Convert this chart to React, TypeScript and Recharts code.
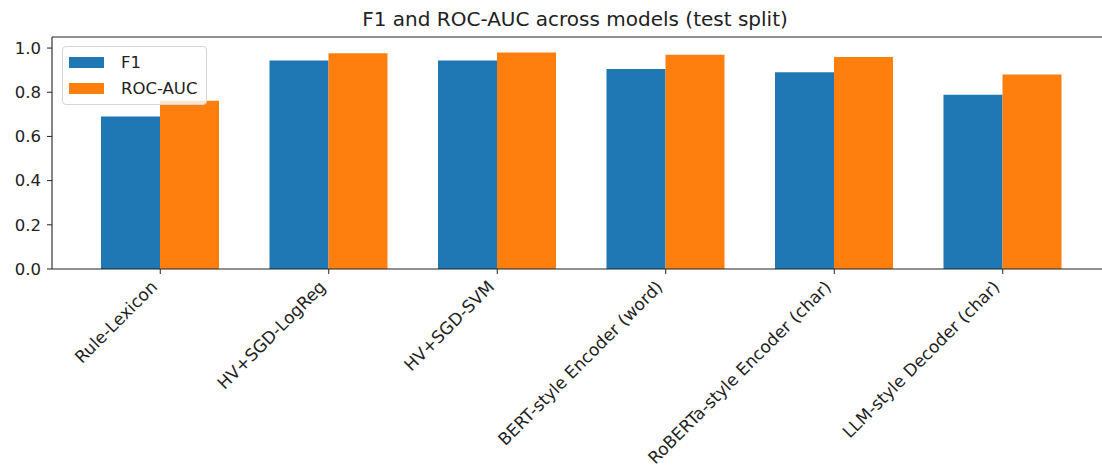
import React from "react";
import { BarChart, Bar, XAxis, YAxis, ReferenceLine } from "recharts";

const models = [
  "Rule-Lexicon",
  "HV+SGD-LogReg",
  "HV+SGD-SVM",
  "BERT-style Encoder (word)",
  "RoBERTa-style Encoder (char)",
  "LLM-style Decoder (char)",
];
const f1Values = [0.69, 0.944, 0.944, 0.905, 0.891, 0.789];
const rocAucValues = [0.762, 0.977, 0.98, 0.97, 0.959, 0.88];
const seriesNames = ["F1", "ROC-AUC"];
const seriesColors = ["#1f77b4", "#ff7f0e"];
const yTicks = [0, 0.2, 0.4, 0.6, 0.8, 1.0];
const title = "F1 and ROC-AUC across models (test split)";

const data = models.map((m, i) => ({ model: m, F1: f1Values[i], "ROC-AUC": rocAucValues[i] }));

const FONT = "DejaVu Sans, sans-serif";

const XTick = (props: any) => {
  const { x, y, payload } = props;
  const ax = x - 2;
  const ay = y + 12;
  return (
    <text
      x={ax}
      y={ay}
      transform={`rotate(-45, ${ax}, ${ay})`}
      textAnchor="end"
      fontFamily={FONT}
      fontSize={17}
      fill="#222"
    >
      {payload.value}
    </text>
  );
};

const LegendBox = () => (
  <div
    style={{
      position: "absolute",
      left: 62,
      top: 46,
      width: 145,
      height: 59,
      border: "1px solid #d6d6d6",
      borderRadius: 4,
      background: "rgba(255,255,255,0.8)",
      padding: "2px 0 0 6px",
      fontFamily: FONT,
      fontSize: 16.5,
      color: "#222",
      boxSizing: "border-box",
      whiteSpace: "nowrap",
    }}
  >
    {seriesNames.map((n, i) => (
      <div key={n} style={{ display: "flex", alignItems: "center", height: 26 }}>
        <span style={{ display: "inline-block", width: 35, height: 11, background: seriesColors[i], marginRight: 17 }} />
        <span>{n}</span>
      </div>
    ))}
  </div>
);

export default function App() {
  return (
    <div style={{ position: "absolute", left: 0, top: 0, width: 1102, height: 474, overflow: "hidden", background: "#fff" }}>
      <div
        style={{
          position: "absolute",
          left: 0,
          width: 1150,
          top: 7,
          textAlign: "center",
          fontFamily: FONT,
          fontSize: 20,
          color: "#222",
          whiteSpace: "nowrap",
        }}
      >
        {title}
      </div>
      <BarChart
        width={1120}
        height={474}
        data={data}
        margin={{ top: 37, right: 10, left: 0, bottom: 0 }}
        barCategoryGap={25}
        barGap={0}
      >
        <XAxis
          dataKey="model"
          interval={0}
          padding={{ left: 24, right: 23 }}
          tick={<XTick />}
          tickSize={5}
          stroke="#222"
          axisLine={{ stroke: "#222", strokeWidth: 1.1 }}
          tickLine={{ stroke: "#222" }}
          height={205}
        />
        <YAxis
          type="number"
          domain={[0, 1.05]}
          ticks={yTicks}
          width={52}
          tickSize={5}
          tickMargin={6}
          tickFormatter={(v: number) => v.toFixed(1)}
          tick={{ fontFamily: FONT, fontSize: 16.5, fill: "#222" }}
          axisLine={{ stroke: "#222", strokeWidth: 1.1 }}
          tickLine={{ stroke: "#222" }}
          allowDataOverflow
        />
        <ReferenceLine y={1.05} stroke="#222" strokeWidth={1.1} ifOverflow="visible" />
        <Bar dataKey="F1" name={seriesNames[0]} fill={seriesColors[0]} isAnimationActive={false} />
        <Bar dataKey="ROC-AUC" name={seriesNames[1]} fill={seriesColors[1]} isAnimationActive={false} />
      </BarChart>
      <LegendBox />
    </div>
  );
}
